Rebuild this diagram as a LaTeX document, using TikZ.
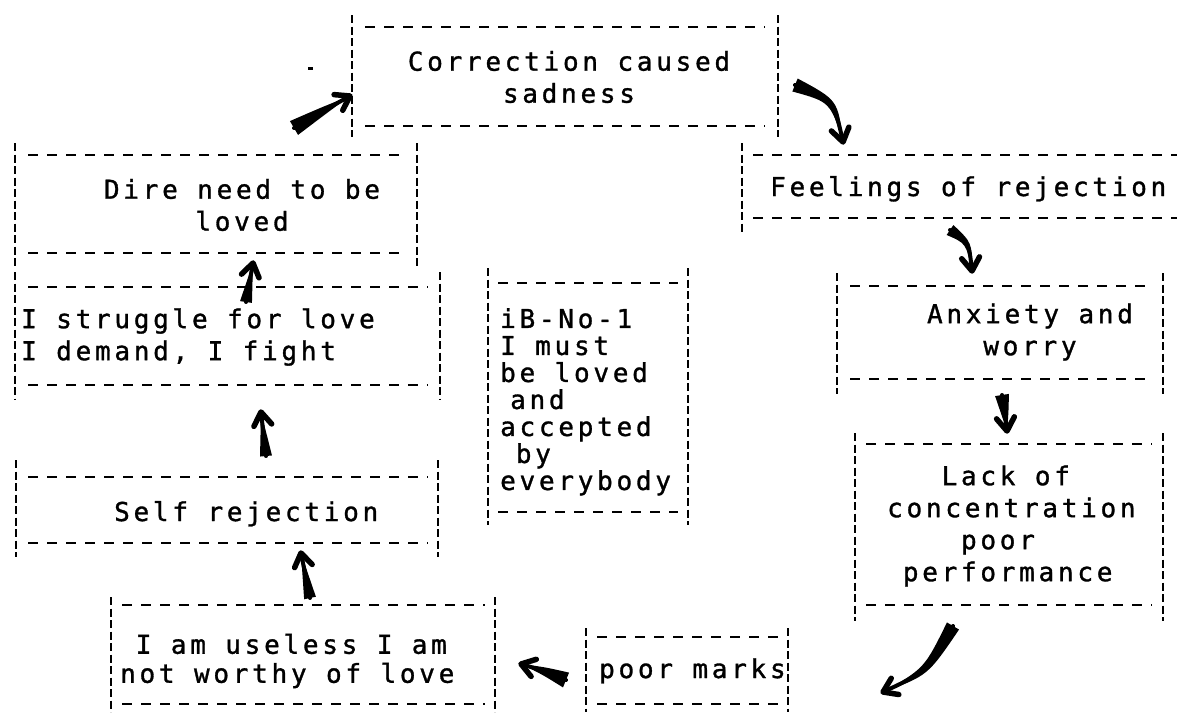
\documentclass[tikz,border=0pt]{standalone}
\usepackage{fontspec}
\usetikzlibrary{calc}
\newfontfamily\twfont[LetterSpace=14.4,FakeBold=1.2]{DejaVu Sans Mono}
\newcommand\tw{\fontsize{26}{32}\twfont\fontdimen2\font=19.4pt\fontdimen3\font=0pt\fontdimen4\font=0pt}
\tikzset{
  vdash/.style={line width=2.5pt, dash pattern=on 8pt off 3.5pt},
  hdash/.style={line width=2.4pt, dash pattern=on 10pt off 9pt},
  txt/.style={font=\tw, inner sep=0pt, text=black},
  headstroke/.style={draw=black, line width=5.5pt, line cap=round, line join=round},
  body/.style={draw=black, line width=4pt, line cap=round}
}
% frame: vl vr vy1 vy2 hy1 hy2 hx1 hx2
\newcommand\tframe[8]{%
  \draw[vdash] (#1,#3) -- (#1,#4);
  \draw[vdash] (#2,#3) -- (#2,#4);
  \draw[hdash] (#7,#5) -- (#8,#5);
  \draw[hdash] (#7,#6) -- (#8,#6);
}
% hand-drawn arrow: tail, control, tip, half width at tail, half width at middle
\newcommand\hand[5]{%
  \fill[black] ($(#1)!#4!90:(#2)$) .. controls ($(#2)!#5!90:(#3)$) .. (#3)
     .. controls ($(#2)!#5!-90:(#3)$) .. ($(#1)!#4!-90:(#2)$) -- cycle;
  \draw[body] (#1) .. controls (#2) .. (#3);
  \draw[headstroke] ($(#3)!16pt!34:(#2)$) -- (#3) -- ($(#3)!16pt!-34:(#2)$);
}
\begin{document}
\begin{tikzpicture}[x=1pt,y=-1pt]
\useasboundingbox (0,0) rectangle (1177,712);
\fill[white] (0,0) rectangle (1177,712);

% frames
\tframe{352}{778}{15}{137}{27}{126}{365}{765}   % A
\tframe{15}{417}{143}{267}{155}{253}{28}{404}   % B
\draw[vdash] (742,143) -- (742,233);            % C
\draw[hdash] (753,155) -- (1177,155);
\draw[hdash] (753,218) -- (1177,218);
\tframe{15}{440}{272}{400}{287}{385}{28}{428}   % D
\tframe{488}{688}{268}{525}{283}{512}{498}{678} % E
\tframe{837}{1163}{273}{394}{286}{379}{850}{1150} % F
\tframe{16}{438}{460}{557}{477}{543}{28}{428}   % G
\tframe{855}{1163}{433}{621}{444}{605}{866}{1152} % H
\tframe{111}{495}{597}{712}{605}{704}{122}{485} % I
\tframe{586}{788}{628}{712}{637}{704}{597}{778} % J

% texts
\node[txt, align=center] (tA) at (569,77) {Correction caused\\sadness};
\node[txt, align=center] (tB) at (242,205) {Dire need to be\\loved};
\node[txt, anchor=base west] (tC) at (770,196) {Feelings of rejection};
\node[txt, align=left, anchor=west] (tD) at (21,337) {I struggle for love\\I demand, I fight};
\node[txt, align=left, anchor=north west] (tE) at (500,308) {iB-No-1\\[-5pt]I must\\[-5pt]be loved\\[-5pt]\hspace*{10pt}and\\[-5pt]accepted\\[-5pt]\phantom{x}by\\[-5pt]everybody};
\node[txt, align=center] (tF) at (1030,332) {Anxiety and\\worry};
\node[txt, anchor=base west] (tG) at (114,521) {Self rejection};
\node[txt, align=left, anchor=west] (tH) at (887,526) {\phantom{xxx}Lack of\\concentration\\\phantom{xxxx}poor\\\phantom{x}performance};
\node[txt, align=left, anchor=west] (tI) at (120,661) {\phantom{x}I am useless I am\\[-3pt]not worthy of love};
\node[txt, anchor=base west] (tJ) at (599,678) {poor marks};

% arrow coordinates
\coordinate (BAs) at (294,128); \coordinate (BAc) at (323,111); \coordinate (BAe) at (350,96);
\coordinate (ACs) at (795,85);  \coordinate (ACc) at (834,101); \coordinate (ACe) at (843,142);
\coordinate (CFs) at (950,230); \coordinate (CFc) at (969,243); \coordinate (CFe) at (972,271);
\coordinate (FHs) at (1002,395); \coordinate (FHc) at (1005,414); \coordinate (FHe) at (1007,431);
\coordinate (HJs) at (953,626); \coordinate (HJc) at (926,672); \coordinate (HJe) at (883,692);
\coordinate (JIs) at (566,680); \coordinate (JIc) at (544,671); \coordinate (JIe) at (521,664);
\coordinate (IGs) at (310,598); \coordinate (IGc) at (305,575); \coordinate (IGe) at (301,553);
\coordinate (GDs) at (266,456); \coordinate (GDc) at (264,434); \coordinate (GDe) at (261,412);
\coordinate (DBs) at (246,302); \coordinate (DBc) at (249,282); \coordinate (DBe) at (253,263);

\hand{BAs}{BAc}{BAe}{8pt}{4pt}
\hand{ACs}{ACc}{ACe}{7pt}{4pt}
\hand{CFs}{CFc}{CFe}{6pt}{3pt}
\hand{FHs}{FHc}{FHe}{7pt}{3.5pt}
\hand{HJs}{HJc}{HJe}{7pt}{4pt}
\hand{JIs}{JIc}{JIe}{8pt}{4pt}
\hand{IGs}{IGc}{IGe}{6pt}{3pt}
\hand{GDs}{GDc}{GDe}{6pt}{3pt}
\hand{DBs}{DBc}{DBe}{6pt}{3pt}

% stray mark
\fill[black] (308,67) rectangle (313,69.5);
\end{tikzpicture}
\end{document}
